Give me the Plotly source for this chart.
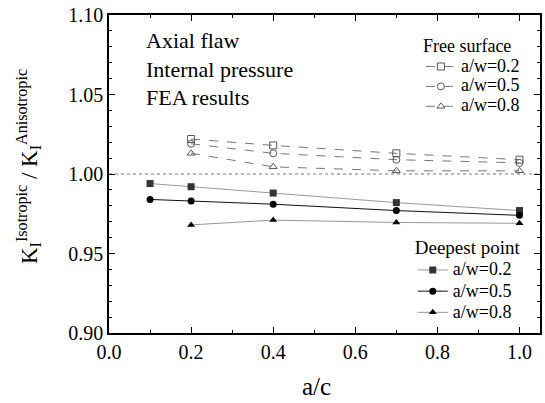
import plotly.graph_objects as go

ac_fs = [0.2, 0.4, 0.7, 1.0]
fs_02 = [1.022, 1.018, 1.013, 1.009]
fs_05 = [1.019, 1.013, 1.009, 1.007]
fs_08 = [1.013, 1.0045, 1.002, 1.002]

ac_dp = [0.1, 0.2, 0.4, 0.7, 1.0]
dp_02 = [0.994, 0.992, 0.988, 0.982, 0.977]
dp_05 = [0.984, 0.983, 0.981, 0.977, 0.974]
ac_dp8 = [0.2, 0.4, 0.7, 1.0]
dp_08 = [0.968, 0.971, 0.9695, 0.969]

FONT = "Liberation Serif"


def big(s, px=18):
    return '<span style="font-size:%dpx">%s</span>' % (px, s)


fig = go.Figure()

# reference line
fig.add_trace(go.Scatter(x=[0, 1.05], y=[1.0, 1.0], mode="lines",
                         line=dict(color="#777777", width=1, dash="dot"),
                         showlegend=False, hoverinfo="skip"))

fs = [(fs_02, "square-open", "a/w=0.2"), (fs_05, "circle-open", "a/w=0.5"),
      (fs_08, "triangle-up-open", "a/w=0.8")]
for ys, sym, name in fs:
    fig.add_trace(go.Scatter(x=ac_fs, y=ys, mode="lines+markers", name=big(name),
                             line=dict(color="#777777", width=1, dash="dash"),
                             marker=dict(symbol=sym, size=7, color="#555555",
                                         line=dict(width=1, color="#555555")),
                             legend="legend"))

dp = [(ac_dp, dp_02, "square", "a/w=0.2", "#999999", "#333333"),
      (ac_dp, dp_05, "circle", "a/w=0.5", "#111111", "#000000"),
      (ac_dp8, dp_08, "triangle-up", "a/w=0.8", "#999999", "#000000")]
for xs, ys, sym, name, lc, mc in dp:
    fig.add_trace(go.Scatter(x=xs, y=ys, mode="lines+markers", name=big(name),
                             line=dict(color=lc, width=1),
                             marker=dict(symbol=sym, size=7, color=mc),
                             legend="legend2"))

axis_common = dict(showline=True, linecolor="black", linewidth=1.5, mirror="ticks",
                   ticks="inside", ticklen=6, tickwidth=1, tickcolor="black",
                   showgrid=False, zeroline=False, automargin=False,
                   tickfont=dict(family=FONT, size=20, color="black"))

fig.update_xaxes(range=[0, 1.05], tick0=0, dtick=0.2, tickformat=".1f",
                 minor=dict(ticks="inside", dtick=0.1, ticklen=3, tickcolor="black"),
                 **axis_common)
fig.update_yaxes(range=[0.90, 1.10], tick0=0.9, dtick=0.05, tickformat=".2f",
                 minor=dict(ticks="inside", dtick=0.01, ticklen=3, tickcolor="black"),
                 **axis_common)

fig.add_annotation(x=0.085, y=1.093, xref="x", yref="y", xanchor="left", yanchor="top",
                   text="Axial flaw<br>Internal pressure<br>FEA results", showarrow=False,
                   align="left", font=dict(family=FONT, size=22, color="black"))

fig.add_annotation(x=0.5, y=-0.12, xref="paper", yref="paper", xanchor="center",
                   yanchor="top", xshift=-8, text="a/c", showarrow=False,
                   font=dict(family=FONT, size=25, color="black"))
fig.add_annotation(x=-0.188, y=0.525, xref="paper", yref="paper", xanchor="center",
                   yanchor="middle", textangle=-90, showarrow=False,
                   text="K<sub>I</sub><sup>Isotropic</sup> / K<sub>I</sub><sup>Anisotropic</sup>",
                   font=dict(family=FONT, size=23, color="black"))

legend_common = dict(bgcolor="rgba(0,0,0,0)", borderwidth=0, itemwidth=30,
                     xanchor="right", yanchor="top", tracegroupgap=0)

fig.update_layout(
    width=545, height=403,
    margin=dict(l=109, r=5, t=15, b=70),
    paper_bgcolor="white", plot_bgcolor="white",
    font=dict(family=FONT, color="black"),
    showlegend=True,
    legend=dict(x=0.965, y=0.975, font=dict(family=FONT, size=13, color="black"),
                title=dict(text=big("Free surface"), font=dict(family=FONT, size=22)),
                **legend_common),
    legend2=dict(x=0.96, y=0.325, font=dict(family=FONT, size=14, color="black"),
                 title=dict(text="Deepest point", font=dict(family=FONT, size=19)),
                 **legend_common),
)

fig.write_html("out.html", config={"displayModeBar": False},
               post_script="document.body.style.margin='0';")
